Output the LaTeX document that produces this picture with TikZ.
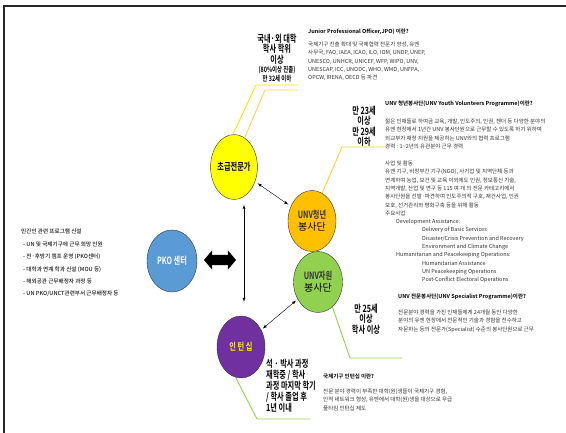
\documentclass[tikz,border=0pt]{standalone}
\usepackage{fontspec}
\setmainfont{Noto Sans CJK KR}
\newfontfamily\headfont{Noto Sans CJK KR Bold}[FakeStretch=0.72]
\newfontfamily\titlefont{Noto Sans CJK KR Bold}
\newfontfamily\medfont{Noto Sans CJK KR Medium}
\usetikzlibrary{positioning, arrows, shapes.geometric, shapes.arrows}

\definecolor{jpoyellow}{HTML}{FFFF00}
\definecolor{youthorange}{HTML}{FFC000}
\definecolor{specgreen}{HTML}{92D050}
\definecolor{internpurple}{HTML}{7030A0}
\definecolor{pkoblue}{HTML}{5B9BD5}

\tikzset{
  circ/.style={ellipse, draw=black!80, thin, inner sep=0pt, align=center},
  head/.style={font=\headfont\fontsize{10}{10.3}\selectfont, align=center, inner sep=0pt},
  desc/.style={font=\fontsize{5.5}{8.3}\selectfont, text=black!80, align=left, anchor=north west, inner sep=0pt},
  lead/.style={line width=0.9pt},
}

\begin{document}
\begin{tikzpicture}[x=1pt, y=-1pt, >=latex]
    \useasboundingbox (0,0) rectangle (566,433);
    \draw [line width=1.6pt, black!85] (4,433) -- (4,6) -- (566,6);

    \node (jpo) [circ, fill=jpoyellow, minimum width=45pt, minimum height=65pt] at (234,167) {\headfont\fontsize{10}{11}\selectfont 초급전문가};
    \node (youth) [circ, fill=youthorange, minimum width=48pt, minimum height=61pt] at (312,221) {\headfont\fontsize{10}{11}\selectfont\color{black!80} UNV청년\\봉사단};
    \node (spec) [circ, fill=specgreen, minimum width=49pt, minimum height=61pt] at (318,282) {\headfont\fontsize{10}{11}\selectfont\color{black!80} UNV자원\\봉사단};
    \node (intern) [circ, fill=internpurple, minimum width=48pt, minimum height=62pt] at (241,347) {\headfont\fontsize{10}{11}\selectfont\color{yellow} 인 턴 십};
    \node (pko) [circ, fill=pkoblue, minimum width=50pt, minimum height=62pt] at (172,261) {\headfont\fontsize{10}{11}\selectfont\color{white} PKO 센터};
    \node (swap) [double arrow, fill=black, minimum height=32pt, inner xsep=0pt, inner ysep=5pt, double arrow head extend=4.5pt, double arrow tip angle=100] at (220,260) {};

    \draw [<->, thin, shorten <=3pt, shorten >=3pt] (jpo) -- (youth);
    \draw [<->, thin, shorten <=2pt, shorten >=2pt] (intern) -- (spec);
    \draw [<->, thin, shorten <=5pt, shorten >=14pt] ([xshift=10pt]jpo.south) -- ([xshift=3pt]intern.north);

    % leader lines
    \coordinate (jpoknee) at (256,85);
    \coordinate (jpoend) at (298,85);
    \coordinate (jpoknee2) at (265,90);
    \coordinate (jpoend2) at (298,90);
    \draw [lead, yellow!90!orange] ([xshift=-1pt]jpo.north) -- (jpoknee) -- (jpoend);
    \draw [lead, youthorange!70] (jpo.70) -- (jpoknee2) -- (jpoend2);
    \coordinate (youthknee) at (342,147);
    \coordinate (youthend) at (387,147);
    \draw [lead, youthorange!80] (youth.70) -- (youthknee) -- (youthend);
    \coordinate (specknee) at (350,358);
    \coordinate (specend) at (402,358);
    \draw [lead, specgreen] (spec.-60) -- (specknee) -- (specend);
    \coordinate (internknee) at (257,419);
    \coordinate (internend) at (310,419);
    \draw [lead, specgreen] (intern.-100) -- (internknee) -- (internend);

    % requirements
    \node (jporeq) [head, anchor=north] at (277,34) {국내·외 대학\\학사 학위\\이상\\[-1pt]{\fontsize{7.5}{9}\selectfont (80\%이상 진출)}\\[-1pt]{\fontsize{7.5}{9}\selectfont 만 32세 이하}};
    \node (youthreq) [head, anchor=north] at (364,106) {만 23세\\이상\\만 29세\\이하};
    \node (specreq) [head, anchor=north] at (366,304) {만 25세\\이상\\학사 이상};
    \node (internreq) [head, align=left, anchor=north west, font=\headfont\fontsize{10}{11}\selectfont] at (266,359) {석 · 박사 과정\\재학중 / 학사\\과정 마지막 학기\\/ 학사 졸업 후\\1년 이내};

    % descriptions
    \node (jpotext) [desc] at (308,29) {{\titlefont\color{black} Junior Professional Officer,JPO) 이란?}\\[4.5pt]
        국제기구 진출 확대 및 국제협력 전문가 양성, 유엔\\
        사무국, FAO, IAEA, ICAO, ILO, IOM, UNDP, UNEP,\\
        UNESCO, UNHCR, UNICEF, WFP, WIPO, UNV,\\
        UNESCAP, ICC, UNODC, WHO, WMO, UNFPA,\\
        OPCW, IRENA, OECD 등 파견};
    \node (youthtext) [desc] at (385,101) {{\titlefont\color{black} UNV 청년봉사단(UNV Youth Volunteers Programme)이란?}\\[9.5pt]
        젊은 인재들로 하여금 교육, 개발, 인도주의, 인권, 젠더 등 다양한 분야의\\
        유엔 현장에서 1년간 UNV 봉사단원으로 근무할 수 있도록 하기 위하여\\
        외교부가 재정 지원을 제공하는 UNV와의 협력 프로그램\\
        경력 : 1\textasciitilde 2년의 유관분야 근무 경력\\[8.7pt]
        사업 및 활동\\
        유엔 기구, 비정부간 기구(NGO), 사기업 및 지역단체 등과\\
        연계하여 농업, 보건 및 교육 이외에도 인권, 정보통신 기술,\\
        지역개발, 산업 및 연구 등 115 여 개 의 전문 카테고리에서\\
        봉사단원을 선발·파견하여 인도주의적 구호, 재건사업, 인권\\
        보호, 선거관리와 평화구축 등을 위해 활동\\
        주요사업\\
        \hspace{11pt}Development Assistance:\\
        \hspace{37pt}Delivery of Basic Services\\
        \hspace{37pt}Disaster/Crisis Prevention and Recovery\\
        \hspace{37pt}Environment and Climate Change\\
        \hspace{11pt}Humanitarian and Peacekeeping Operations:\\
        \hspace{37pt}Humanitarian Assistance\\
        \hspace{37pt}UN Peacekeeping Operations\\
        \hspace{37pt}Post-Conflict Electoral Operations};
    \node (spectext) [desc] at (398,294) {{\titlefont\color{black} UNV 전문봉사단(UNV Specialist Programme)이란?}\\[7.5pt]
        전문분야 경력을 가진 인재들에게 24개월 동안 다양한\\
        분야의 유엔 현장에서 전문적인 기술과 경험을 전수하고\\
        자문하는 등의 전문가(Specialist) 수준의 봉사단원으로 근무};
    \node (interntext) [desc] at (323,374) {{\titlefont\color{black} 국제기구 인턴십 이란?}\\[6.5pt]
        전문 분야 경력이 부족한 대학(원)생들이 국제기구 경험,\\
        인적 네트워크 형성, 유엔에서 대학(원)생을 대상으로 무급\\
        풀타임 인턴십 제도};
    \node (pkotext) [desc, font=\medfont\fontsize{5.6}{12.4}\selectfont, text=black!90] at (21,229) {민간인 관련 프로그램 신설\\
        \hspace{2pt}- UN 및 국제기구에 근무 희망 인원\\
        \hspace{2pt}- 전·후방기 캠프 운영 (PKO센터)\\
        \hspace{2pt}- 대학과 연계 학과 신설 (MOU 등)\\
        \hspace{2pt}- 해외공관 근무배정자 과정 등\\
        \hspace{2pt}- UN PKO/UNCT관련부서 근무배정자 등};
\end{tikzpicture}
\end{document}
